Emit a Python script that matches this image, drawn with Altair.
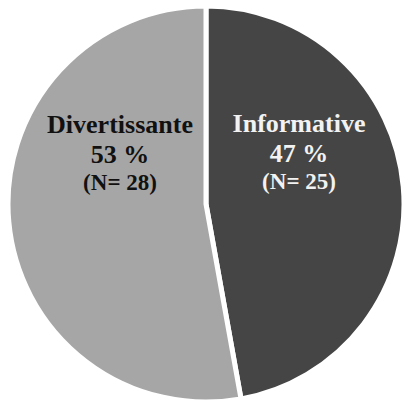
import altair as alt
import pandas as pd

categories = ["Informative", "Divertissante"]
counts = [25, 28]
percents = ["47 %", "53 %"]
n_labels = ["(N= 25)", "(N= 28)"]
colors = ["#454545", "#a6a6a6"]
text_colors = ["#f2f2f2", "#111111"]

df = pd.DataFrame({
    "category": categories,
    "count": counts,
    "pct": percents,
    "nlab": n_labels,
    "idx": list(range(len(categories))),
})

W, H = 408, 406
CX, CY, R = 206, 204, 198

pie = alt.Chart(df).mark_arc(
    x=CX, y=CY, outerRadius=R, stroke="white", strokeWidth=5
).encode(
    theta=alt.Theta("count:Q", stack=True),
    color=alt.Color("category:N", scale=alt.Scale(domain=categories, range=colors), legend=None),
    order=alt.Order("idx:Q"),
)

label_pos = {"Informative": (299, 132), "Divertissante": (120, 133)}

FONT = "Liberation Serif"

layers = [pie]
for cat, tc in zip(categories, text_colors):
    lx, ly = label_pos[cat]
    base = alt.Chart(df).transform_filter(alt.datum.category == cat)
    common = dict(font=FONT, fontWeight="bold", color=tc, align="center", baseline="alphabetic")
    layers.append(base.mark_text(x=lx, y=ly, fontSize=26, **common).encode(text="category:N"))
    layers.append(base.mark_text(x=lx, y=ly + 30, fontSize=26, **common).encode(text="pct:N"))
    layers.append(base.mark_text(x=lx, y=ly + 57, fontSize=23, **common).encode(text="nlab:N"))

chart = alt.layer(*layers).properties(
    width=W, height=H, padding=0, autosize=alt.AutoSizeParams(type="none")
).configure_view(stroke=None).configure(background="white")

chart.save("out.html", embed_options={"renderer": "svg", "actions": False})
